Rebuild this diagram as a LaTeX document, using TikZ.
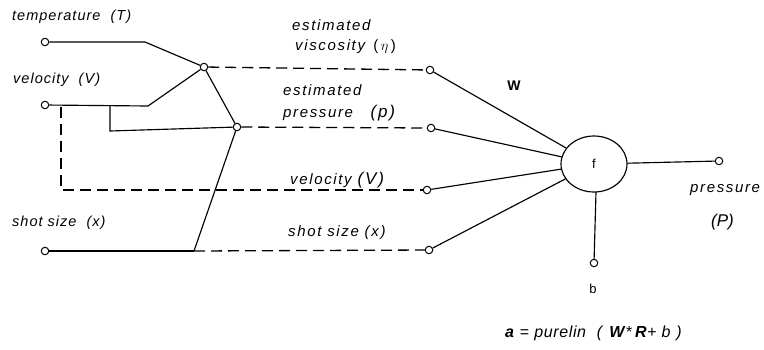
\documentclass[tikz,border=0pt]{standalone}
\usepackage{fontspec}
\setmainfont{Liberation Sans}
\usetikzlibrary{shapes.geometric}
\tikzset{
  port/.style={circle,draw,fill=white,minimum size=7.5pt,inner sep=0pt,line width=1pt},
  wire/.style={line width=1.15pt},
  dwire/.style={line width=1.3pt,dash pattern=on 11pt off 6pt},
  lbl/.style={font=\itshape\fontsize{14.5}{16}\selectfont\addfontfeature{LetterSpace=7},inner sep=0pt,anchor=west},
  mlbl/.style={font=\itshape\fontsize{15}{17}\selectfont\addfontfeature{LetterSpace=11},inner sep=0pt,anchor=west},
}
\newcommand{\bigpar}[1]{{\fontsize{17}{19}\selectfont #1}}
\begin{document}
\begin{tikzpicture}[x=1pt,y=-1pt]
\useasboundingbox (0,0) rectangle (764,349);
% input ports
\node[port] (t) at (45,42) {};
\node[port] (v) at (45,105) {};
\node[port] (s) at (45,251) {};
% junctions
\node[port] (j1) at (204,67) {};
\node[port] (j2) at (237,127) {};
% layer-2 ports
\node[port] (e1) at (430,70) {};
\node[port] (e2) at (431,128) {};
\node[port] (e3) at (427,190) {};
\node[port] (e4) at (429,250) {};
% neuron
\node[ellipse,draw,line width=1.15pt,minimum width=66pt,minimum height=56pt,inner sep=0pt,font=\fontsize{13}{15}\selectfont] (f) at (594,164) {f};
\node[port] (out) at (719,161) {};
\node[port] (bias) at (594,263) {};
% bend coordinates
\coordinate (tb) at (145,42);
\coordinate (vb) at (148,106);
\coordinate (vs) at (110,106);
\coordinate (vsd) at (110,131);
\coordinate (vd) at (61,107);
\coordinate (vdd) at (61,190);
\coordinate (sb) at (194,251);
\coordinate (fb) at (596,192);
% wires
\draw[wire] (t) -- (tb) -- (j1);
\draw[wire] (v) -- (vb) -- (j1);
\draw[wire] (vs) -- (vsd) -- (j2);
\draw[wire] (j1) -- (j2);
\draw[wire] (j2) -- (sb);
\draw[wire] (s) -- (sb);
\draw[dwire] (j1) -- (e1);
\draw[dwire] (j2) -- (e2);
\draw[dwire] (vd) -- (vdd) -- (e3);
\draw[dwire] (sb) -- (e4);
\draw[wire] (e1) -- (f);
\draw[wire] (e2) -- (f);
\draw[wire] (e3) -- (f);
\draw[wire] (e4) -- (f);
\draw[wire] (f) -- (out);
\draw[wire] (fb) -- (bias);
% labels
\node[lbl] (lt) at (12,17) {temperature\ \ (T)};
\node[lbl] (lv) at (13,80) {velocity\ \ (V)};
\node[lbl] (ls) at (12,223) {shot size\ \ (x)};
\node[mlbl] (le1a) at (292,25) {estimated};
\node[mlbl] (le1b) at (295,47) {viscosity \textup{(}\,$\eta$\,\textup{)}};
\node[mlbl] (le2a) at (283,90) {estimated};
\node[mlbl] (le2b) at (283,113) {pressure\ \ \ \bigpar{(p)}};
\node[mlbl] (le3) at (290,180) {velocity \bigpar{(V)}};
\node[mlbl] (le4) at (288,233) {shot size (x)};
\node[font=\bfseries\fontsize{14}{16}\selectfont,inner sep=0pt] (lw) at (514,86) {W};
\node[mlbl] (lp1) at (690,190) {pressure};
\node[mlbl,font=\itshape\fontsize{17}{19}\selectfont] (lp2) at (711,222) {(P)};
\node[font=\fontsize{13}{15}\selectfont,inner sep=0pt] (lb) at (593,289) {b};
\node[font=\fontsize{16}{18}\selectfont\addfontfeature{LetterSpace=4},inner sep=0pt,anchor=west] (lf) at (505,333) {\textbf{\textit{a}} = \textit{purelin}\ \ \textit{(}\ \textbf{\textit{W}}*\,\textbf{\textit{R}}+ \textit{b}\ \textit{)}};
\end{tikzpicture}
\end{document}
